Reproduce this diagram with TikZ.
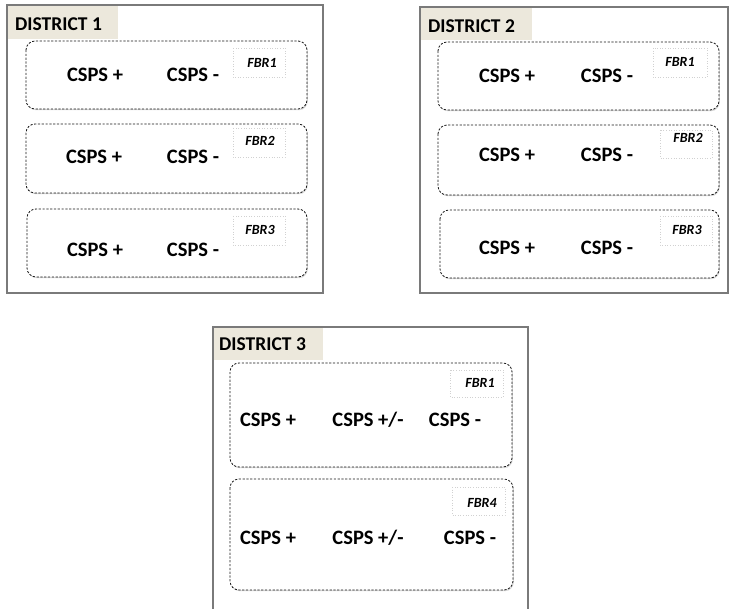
\documentclass[tikz,border=0pt]{standalone}
\usepackage{fontspec}
\setmainfont{Carlito}
\usetikzlibrary{shadows}
\definecolor{tabfill}{HTML}{ECE8DC}
\definecolor{frameline}{HTML}{7A7A7A}
\tikzset{
  district/.style={draw=frameline, line width=1.1pt, fill=white, drop shadow={shadow xshift=1.2pt, shadow yshift=-1.2pt, opacity=0.25}},
  tabbox/.style={fill=tabfill},
  tabtext/.style={anchor=west, inner sep=0pt, font=\fontsize{19.5}{21}\selectfont\bfseries},
  fbrbox/.style={draw=black!90, dashed, dash pattern=on 2.2pt off 1.6pt, line width=0.8pt, rounded corners=9pt, fill=white, drop shadow={shadow xshift=0.8pt, shadow yshift=-1.2pt, opacity=0.3}},
  csps/.style={inner sep=0pt, font=\fontsize{20.5}{22}\selectfont\bfseries},
  fbrlbl/.style={inner sep=0pt, font=\fontsize{14}{15}\selectfont\bfseries\itshape},
  dotbox/.style={draw=black!18, dotted, line width=0.6pt}
}
\begin{document}
\begin{tikzpicture}[x=1pt,y=-1pt]
\useasboundingbox (0,0) rectangle (733,609);
% ---------- District 1
\draw[district] (7,5) rectangle (323,293);
\fill[tabbox] (7.6,5.6) rectangle (118,39);
\node[tabtext] (d1) at (15,24) {DISTRICT 1};
\draw[fbrbox] (26,41) rectangle (307,109);
\draw[fbrbox] (26,124) rectangle (307,193);
\draw[fbrbox] (27,209) rectangle (307,277);
\draw[dotbox] (233,48) rectangle (285,77);
\draw[dotbox] (233,128) rectangle (285,157);
\draw[dotbox] (233,216) rectangle (285,245);
\node[fbrlbl] (d1f1) at (262,63) {FBR1};
\node[fbrlbl] (d1f2) at (260,141) {FBR2};
\node[fbrlbl] (d1f3) at (260,230) {FBR3};
\node[csps] (d1a1) at (95,75) {CSPS +};
\node[csps] (d1b1) at (193,75) {CSPS -};
\node[csps] (d1a2) at (94,157) {CSPS +};
\node[csps] (d1b2) at (193,157) {CSPS -};
\node[csps] (d1a3) at (95,250) {CSPS +};
\node[csps] (d1b3) at (193,250) {CSPS -};
% ---------- District 2
\draw[district] (420,7) rectangle (728,293);
\fill[tabbox] (420.6,7.6) rectangle (532,40);
\node[tabtext] (d2) at (428,26) {DISTRICT 2};
\draw[fbrbox] (438,42) rectangle (719,110);
\draw[fbrbox] (438,125) rectangle (719,195);
\draw[fbrbox] (440,210) rectangle (719,278);
\draw[dotbox] (653,48) rectangle (707,77);
\draw[dotbox] (660,130) rectangle (712,158);
\draw[dotbox] (660,216) rectangle (712,245);
\node[fbrlbl] (d2f1) at (680,62) {FBR1};
\node[fbrlbl] (d2f2) at (688,138) {FBR2};
\node[fbrlbl] (d2f3) at (687,230) {FBR3};
\node[csps] (d2a1) at (507,76) {CSPS +};
\node[csps] (d2b1) at (607,76) {CSPS -};
\node[csps] (d2a2) at (507,155) {CSPS +};
\node[csps] (d2b2) at (607,155) {CSPS -};
\node[csps] (d2a3) at (507,248) {CSPS +};
\node[csps] (d2b3) at (607,248) {CSPS -};
% ---------- District 3
\draw[district] (213,327) rectangle (528,612);
\fill[tabbox] (213.6,327.6) rectangle (323,360);
\node[tabtext] (d3) at (219,344) {DISTRICT 3};
\draw[fbrbox] (230,363) rectangle (512,467);
\draw[fbrbox] (230,479) rectangle (513,590);
\draw[dotbox] (450,370) rectangle (503,397);
\draw[dotbox] (452,487) rectangle (505,515);
\node[fbrlbl] (d3f1) at (480,383) {FBR1};
\node[fbrlbl] (d3f4) at (482,503) {FBR4};
\node[csps] (d3a1) at (268,420) {CSPS +};
\node[csps] (d3m1) at (368,420) {CSPS +/-};
\node[csps] (d3b1) at (455,420) {CSPS -};
\node[csps] (d3a2) at (268,538) {CSPS +};
\node[csps] (d3m2) at (368,538) {CSPS +/-};
\node[csps] (d3b2) at (470,538) {CSPS -};
\end{tikzpicture}
\end{document}
